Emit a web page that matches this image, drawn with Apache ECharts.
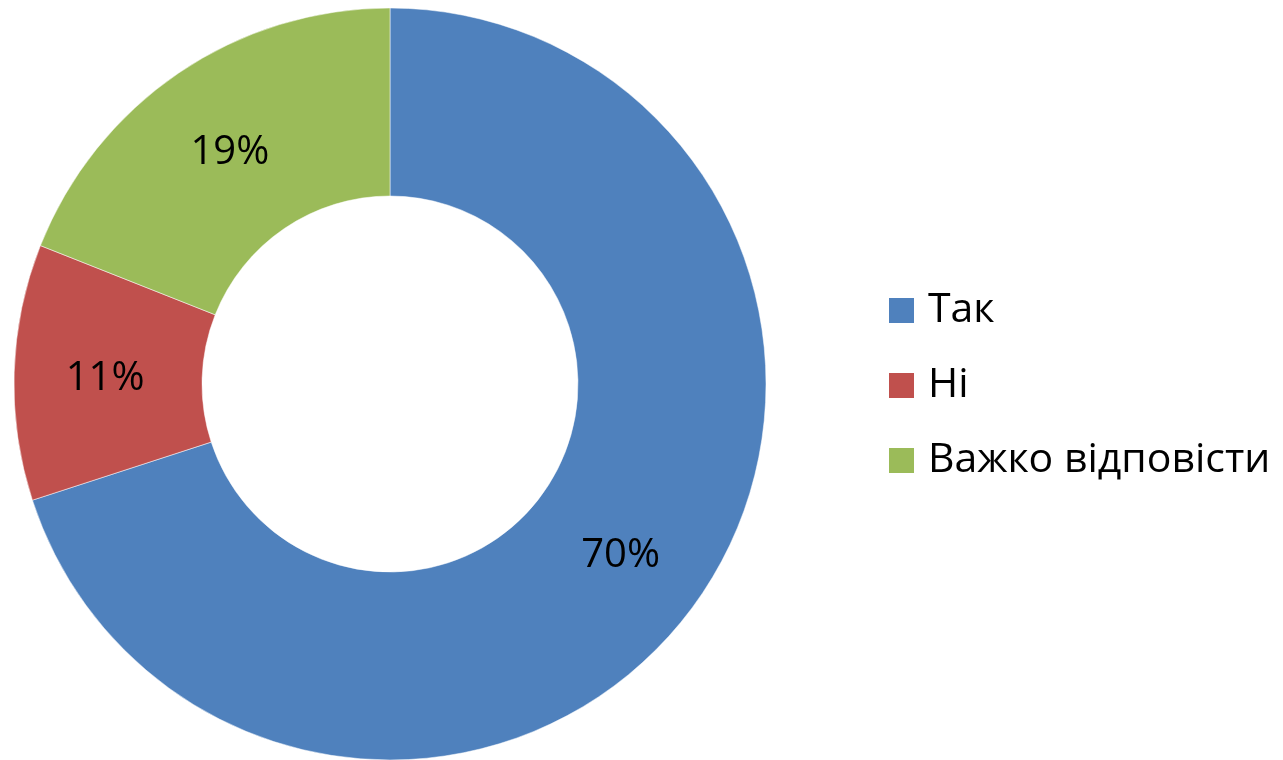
<!DOCTYPE html>
<html><head><meta charset="utf-8">
<script src="https://cdn.jsdelivr.net/npm/echarts@6/dist/echarts.min.js"></script>
<style>html,body{margin:0;padding:0;background:#fff}#c{width:1283px;height:760px}</style>
</head><body><div id="c"></div>
<script>
const categories = ["Так", "Ні", "Важко відповісти"];
const values = [70, 11, 19];
const colors = ["#4F81BD", "#C0504D", "#9BBB59"];

const chart = echarts.init(document.getElementById('c'));
chart.setOption({
  animation: false,
  textStyle: { fontFamily: "Open Sans" },
  legend: {
    orient: 'vertical',
    left: 882, top: 285,
    itemWidth: 27, itemHeight: 27, itemGap: 34,
    icon: 'rect',
    textStyle: { fontSize: 41, lineHeight: 41, color: '#000', fontFamily: "Open Sans", padding: [0,0,0,8] },
    data: categories
  },
  series: [{
    type: 'pie',
    center: [390, 384],
    radius: [188, 376],
    startAngle: 90,
    clockwise: true,
    avoidLabelOverlap: false,
    itemStyle: { borderColor: '#fff', borderWidth: 0.5 },
    label: { position: 'inside', formatter: '{c}%', fontSize: 40, offset: [0, 4], color: '#000', fontFamily: "Open Sans" },
    labelLine: { show: false },
    emphasis: { disabled: true },
    data: categories.map((n, i) => ({ name: n, value: values[i], itemStyle: { color: colors[i] } }))
  }]
});
</script></body></html>
